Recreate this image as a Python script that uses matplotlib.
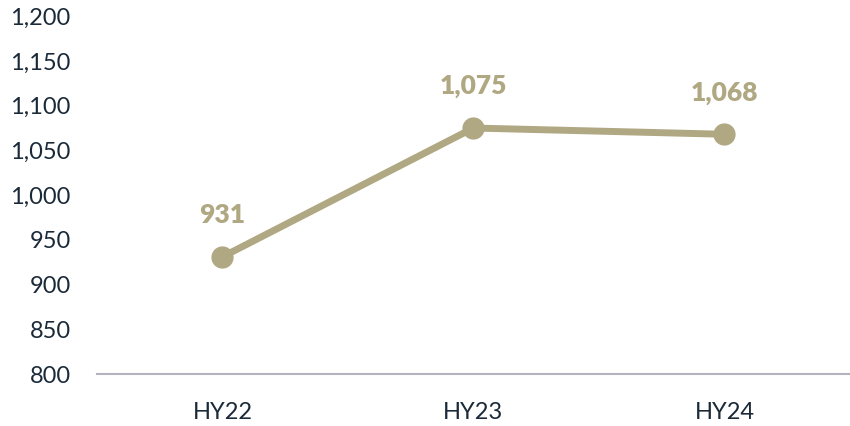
import matplotlib
matplotlib.use('Agg')
import matplotlib.pyplot as plt
from matplotlib.ticker import FuncFormatter

periods = ["HY22", "HY23", "HY24"]
values = [931, 1075, 1068]

LINE_COLOR = "#B0A882"
TEXT_COLOR = "#1B2A38"

plt.rcParams['font.family'] = ['Lato', 'DejaVu Sans']

fig = plt.figure(figsize=(8.5, 4.26), dpi=100)
ax = fig.add_axes([0.114, 0.122, 0.886, 0.840])

x = list(range(len(periods)))
ax.plot(x, values, color=LINE_COLOR, linewidth=5, marker="o",
        markersize=15, solid_capstyle="round", zorder=3)

# data labels
for xi, v in zip(x, values):
    ax.annotate(f"{v:,}", (xi, v), xytext=(0, 30), textcoords="offset points",
                ha="center", va="center", fontsize=19, fontweight="heavy",
                color=LINE_COLOR)

ax.set_xlim(-0.5, 2.5)
ax.set_ylim(800, 1200)
ax.set_yticks(range(800, 1201, 50))
ax.yaxis.set_major_formatter(FuncFormatter(lambda v, p: f"{int(v):,}"))
ax.set_xticks(x)
ax.set_xticklabels(periods)

ax.tick_params(axis="both", length=0, labelsize=17, colors=TEXT_COLOR)
ax.tick_params(axis="y", pad=19)
ax.tick_params(axis="x", pad=20)

for s in ["top", "right", "left"]:
    ax.spines[s].set_visible(False)
ax.spines["bottom"].set_color("#B4B2BC")
ax.spines["bottom"].set_linewidth(1.5)

fig.savefig("out.png", dpi=100)
plt.close(fig)
